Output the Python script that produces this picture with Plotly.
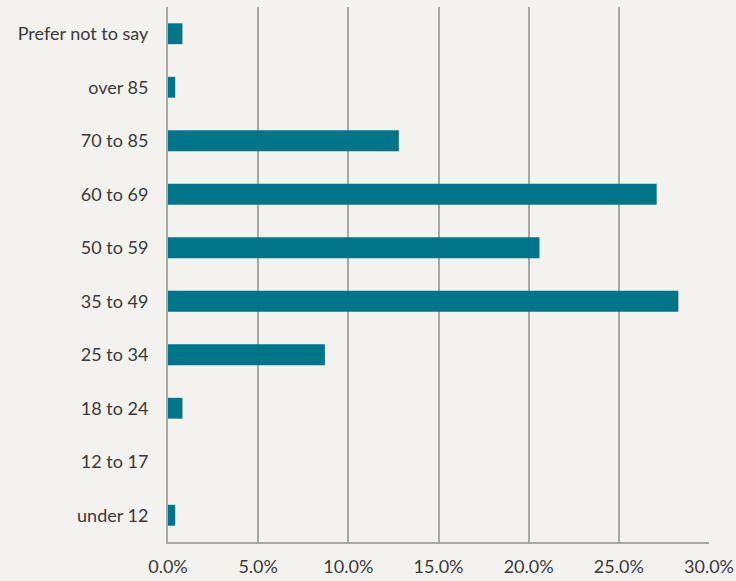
import plotly.graph_objects as go

# Age bands (bottom to top) and share of respondents (%)
age_groups = ["under 12", "12 to 17", "18 to 24", "25 to 34", "35 to 49",
              "50 to 59", "60 to 69", "70 to 85", "over 85", "Prefer not to say"]
share_pct = [0.4, 0.0, 0.8, 8.7, 28.3, 20.6, 27.1, 12.8, 0.4, 0.8]

x_ticks = [0, 5, 10, 15, 20, 25, 30]
x_tick_labels = ["0.0%", "5.0%", "10.0%", "15.0%", "20.0%", "25.0%", "30.0%"]

bg = "#F4F2EE"
bar_color = "#00758A"
grid_color = "#A6A6A6"
text_color = "#3A3A3A"

fig = go.Figure(
    go.Bar(
        x=share_pct,
        y=age_groups,
        orientation="h",
        marker=dict(color=bar_color, line=dict(width=0)),
        width=0.39,
    )
)

fig.update_layout(
    width=736,
    height=581,
    margin=dict(l=168, r=27, t=7, b=39),
    paper_bgcolor=bg,
    plot_bgcolor=bg,
    font=dict(family="Lato, sans-serif", size=18, color=text_color),
    showlegend=False,
    bargap=0.61,
)

fig.update_xaxes(
    range=[0, 30],
    tickvals=x_ticks,
    ticktext=x_tick_labels,
    showgrid=True,
    gridcolor=grid_color,
    gridwidth=2,
    zeroline=False,
    showline=True,
    linecolor=grid_color,
    linewidth=2,
    ticks="",
    ticklabelstandoff=7,
    automargin=False,
)

fig.update_yaxes(
    categoryorder="array",
    categoryarray=age_groups,
    showgrid=False,
    zeroline=False,
    showline=True,
    linecolor=grid_color,
    linewidth=2,
    ticks="",
    ticklabelstandoff=14,
    automargin=False,
)

fig.write_html("out.html")
